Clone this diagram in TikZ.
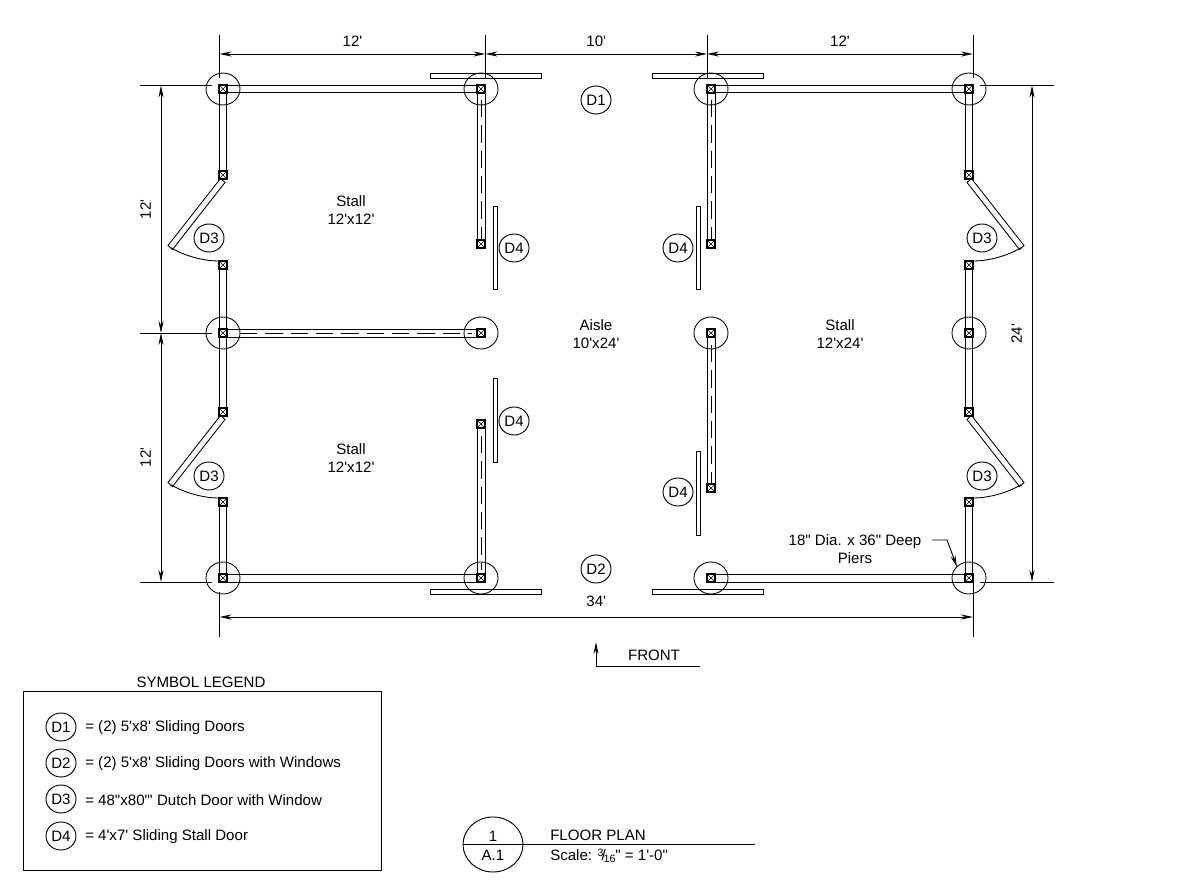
\documentclass[tikz,border=0pt]{standalone}
\usepackage{fontspec}
\usepackage{tikz}
\usetikzlibrary{arrows.meta,shapes.geometric}
\newfontfamily\planfont{Liberation Sans}
\tikzset{
    wall/.style={line width=0.7pt},
    thin wall/.style={line width=0.65pt},
    core/.style={line width=0.55pt, dash pattern=on 13pt off 6pt},
    pier/.style={draw, fill=white, line width=0.8pt, rectangle, inner sep=0pt, minimum size=6pt},
    dim/.style={line width=0.7pt},
    tag/.style={draw, ellipse, line width=0.7pt, inner sep=0pt, minimum width=22.5pt, minimum height=21pt},
    label/.style={align=center, inner sep=0pt}
}
\begin{document}
\begin{tikzpicture}[x=0.75pt, y=-0.75pt, >={Stealth[length=9pt,width=3.8pt]}, font=\planfont\fontsize{11.3}{13}\selectfont]
    \useasboundingbox (0, 0) rectangle (1200, 888);
    % extension lines and dimensions
    \foreach \ex in {219.5, 485.5, 707, 973}
        \draw[dim] (\ex, 35) -- (\ex, 78);
    \draw[dim] (219.5, 592) -- (219.5, 637);
    \draw[dim] (973, 582) -- (973, 637);
    \foreach \ey in {85.5, 333, 582}
        \draw[dim] (140, \ey) -- (212, \ey);
    \draw[dim] (980, 85.5) -- (1054, 85.5);
    \draw[dim] (980, 582) -- (1054, 582);
    \draw[dim, <->] (219.5, 54) -- (485.5, 54) node[midway, above=2pt] {12'};
    \draw[dim, <->] (485.5, 54) -- (707, 54) node[midway, above=2pt] {10'};
    \draw[dim, <->] (707, 54) -- (973, 54) node[midway, above=2pt] {12'};
    \draw[dim, <->] (219.5, 617) -- (973, 617) node[midway, above=4pt] {34'};
    \draw[dim, <->] (161, 85.5) -- (161, 333) node[midway, rotate=90, above=4pt] {12'};
    \draw[dim, <->] (161, 333) -- (161, 582) node[midway, rotate=90, above=4pt] {12'};
    \draw[dim, <->] (1032, 85.5) -- (1032, 582) node[midway, rotate=90, above=4pt] {24'};
    % walls
    \foreach \ax/\ay/\bx/\by in {223/85.5/481/92.5, 711/85.5/969/92.5, 223/574.5/481/582, 711/574.5/969/582, 223/329.5/481/337, 477/89/485/244, 707/89/715/244, 477/424/485/578, 707/333/715/488}
        \draw[wall] (\ax, \ay) rectangle (\bx, \by);
    \draw[core] (240, 333) -- (472, 333);
    \draw[core] (481, 100) -- (481, 240);
    \draw[core] (711, 100) -- (711, 240);
    \draw[core] (481, 436) -- (481, 570);
    \draw[core] (711, 345) -- (711, 484);
    % outer walls and dutch doors, both sides
    \foreach \ox/\sx in {0/1, 1192/-1} {
        \begin{scope}[shift={(\ox, 0)}, xscale=\sx]
            \draw[wall] (219.5, 85.5) rectangle (226.5, 175);
            \draw[wall] (219.5, 265) rectangle (226.5, 412);
            \draw[wall] (219.5, 502) rectangle (226.5, 582);
            \foreach \dy in {0, 237} {
                \draw[thin wall] (220.5, 178.5 + \dy) -- (168, 245.5 + \dy) -- (172.5, 249.5 + \dy) -- (225, 182.5 + \dy) -- cycle;
                \draw[thin wall] (170.5, 247.5 + \dy) .. controls (185, 256 + \dy) and (203, 261 + \dy) .. (219.5, 261 + \dy);
            }
        \end{scope}
    }
    % sliding doors
    \foreach \ax/\ay/\bx/\by in {430/73.5/541/78.5, 652/73.5/763/78.5, 430/589/541/594.5, 652/589/763/594.5, 493/206/497/289, 696/206/700/289, 493/378/497/462, 696/451/700/535}
        \draw[thin wall] (\ax, \ay) rectangle (\bx, \by);
    % piers
    \foreach \px/\py in {223/89, 481/89, 711/89, 969/89, 223/333, 481/333, 711/333, 969/333, 223/578, 481/578, 711/578, 969/578, 223/175, 223/265, 223/412, 223/502, 969/175, 969/265, 969/412, 969/502, 481/244, 711/244, 481/424, 711/488} {
        \node[pier] (pier) at (\px, \py) {};
        \draw[line width=0.4pt] (pier.north west) -- (pier.south east) (pier.north east) -- (pier.south west);
    }
    \foreach \px in {223, 481, 711, 969}
        \foreach \py in {89, 333, 578}
            \draw[thin wall] (\px, \py) circle [x radius=17, y radius=16];
    % door tags
    \foreach \tx/\ty/\tt in {596/100/D1, 596/569/D2, 209/238/D3, 209/476/D3, 982/238/D3, 982/476/D3, 514/248/D4, 678/248/D4, 514/421/D4, 678/492/D4}
        \node[tag] at (\tx, \ty) {\tt};
    % room labels
    \node[label] at (351, 210) {Stall\\12'x12'};
    \node[label] at (351, 458) {Stall\\12'x12'};
    \node[label] at (596, 334) {Aisle\\10'x24'};
    \node[label] at (840, 334) {Stall\\12'x24'};
    \node[label] (piers) at (855, 549) {18" Dia. x 36" Deep\\Piers};
    \coordinate (leader) at (932, 540);
    \coordinate (piertip) at (957, 567);
    \draw[dim, ->] (leader) -- ++(15, 0) -- (piertip);
    % front arrow
    \node[label] (front) at (654, 655) {FRONT};
    \coordinate (frontend) at (700, 666);
    \coordinate (frontcorner) at (596, 666);
    \coordinate (fronttip) at (596, 642);
    \draw[dim, ->] (frontend) -- (frontcorner) -- (fronttip);
    % legend
    \node[label] at (201, 682) {SYMBOL LEGEND};
    \draw[wall] (23, 691) rectangle (381, 870);
    \foreach \ly/\lt/\ld in {727/D1/= (2) 5'x8' Sliding Doors, 763/D2/= (2) 5'x8' Sliding Doors with Windows, 799/D3/= 48"x80"' Dutch Door with Window, 836/D4/= 4'x7' Sliding Stall Door} {
        \node[tag] at (61, \ly) {\lt};
        \node[label, anchor=west] at (85, \ly + 1) {\ld};
    }
    % title block
    \draw[wall] (493, 844.5) circle [x radius=30, y radius=27.5];
    \draw[wall] (463, 844.5) -- (755, 844.5);
    \node[label] at (493, 836) {1};
    \node[label] at (493, 855) {A.1};
    \node[label, anchor=west] at (550, 835) {FLOOR PLAN};
    \node[label, anchor=west] at (550, 856) {Scale: \raisebox{3pt}{\fontsize{8}{8}\selectfont 3}\kern-1.6pt/\kern-1.6pt\raisebox{-1.2pt}{\fontsize{8}{8}\selectfont 16}" = 1'-0"};
\end{tikzpicture}
\end{document}
